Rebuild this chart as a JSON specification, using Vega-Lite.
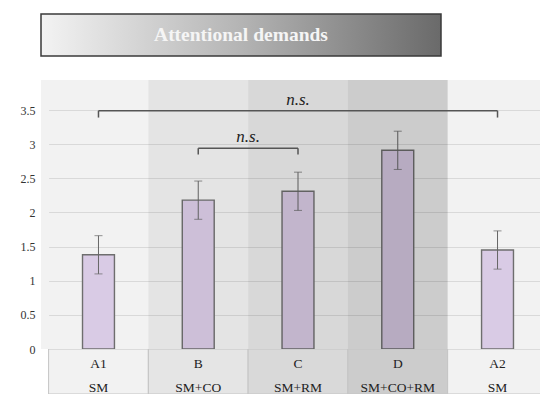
{
  "$schema": "https://vega.github.io/schema/vega-lite/v6.json",
  "autosize": {"type": "pad"},
  "padding": {"left": 20, "top": 13, "right": 0, "bottom": 0},
  "background": "white",
  "bounds": "flush",
  "spacing": 24,
  "config": {
    "font": "Liberation Serif",
    "view": {"stroke": null},
    "axisY": {
      "format": "~g",
      "domain": false,
      "ticks": false,
      "labelPadding": 6,
      "labelFont": "Liberation Serif",
      "labelFontSize": 12,
      "labelColor": "#333333",
      "gridColor": "#d9d9d9",
      "gridWidth": 1
    }
  },
  "datasets": {
    "scores": [
      {"cond": "A1", "task": "SM", "mean": 1.38, "se": 0.28},
      {"cond": "B", "task": "SM+CO", "mean": 2.18, "se": 0.28},
      {"cond": "C", "task": "SM+RM", "mean": 2.31, "se": 0.28},
      {"cond": "D", "task": "SM+CO+RM", "mean": 2.91, "se": 0.28},
      {"cond": "A2", "task": "SM", "mean": 1.45, "se": 0.28}
    ],
    "brackets": [
      {"from": "A1", "to": "A2", "level": 3.49, "drop": 3.39, "note": "n.s."},
      {"from": "B", "to": "C", "level": 2.94, "drop": 2.85, "note": "n.s."}
    ]
  },
  "vconcat": [
    {
      "width": 400,
      "height": 42,
      "data": {"values": [{"heading": "Attentional demands"}]},
      "layer": [
        {
          "mark": {
            "type": "rect",
            "fill": {
              "gradient": "linear",
              "x1": 0, "y1": 0, "x2": 1, "y2": 0,
              "stops": [
                {"offset": 0, "color": "#f3f3f3"},
                {"offset": 0.5, "color": "#b4b4b4"},
                {"offset": 1, "color": "#6a6a6a"}
              ]
            },
            "stroke": "#3a3a3a",
            "strokeWidth": 1.5
          },
          "encoding": {
            "x": {"value": 0},
            "x2": {"value": "width"},
            "y": {"value": 0},
            "y2": {"value": "height"}
          }
        },
        {
          "mark": {
            "type": "text",
            "font": "Liberation Serif",
            "fontWeight": "bold",
            "fontSize": 19.5,
            "color": "#f5f5f5",
            "baseline": "middle",
            "align": "center"
          },
          "encoding": {"text": {"field": "heading"}}
        }
      ]
    },
    {
      "spacing": 0,
      "bounds": "flush",
      "vconcat": [
        {
          "width": 499,
          "height": 269,
          "view": {"fill": "#f2f2f2", "stroke": null},
          "encoding": {
            "y": {
              "field": "mean", "type": "quantitative", "title": null,
              "scale": {"domain": [0, 3.94], "nice": false},
              "axis": {"title": null, "values": [0, 0.5, 1, 1.5, 2, 2.5, 3, 3.5]}
            }
          },
          "layer": [
            {
              "data": {"name": "scores"},
              "mark": {
                "type": "bar",
                "fill": "#d9cbe5",
                "stroke": "#6e6e6e",
                "strokeWidth": 1.4,
                "width": {"band": 0.32}
              },
              "encoding": {
                "x": {
                  "field": "cond", "type": "nominal", "sort": null,
                  "scale": {"domain": ["A1", "B", "C", "D", "A2"], "range": [7.6, 506.4], "paddingInner": 0, "paddingOuter": 0},
                  "axis": null
                }
              }
            },
            {
              "data": {"name": "scores"},
              "mark": {"type": "errorbar", "color": "#666666", "ticks": {"size": 8}},
              "encoding": {
                "x": {"field": "cond", "type": "nominal", "sort": null},
                "yError": {"field": "se"}
              }
            },
            {
              "data": {"name": "scores"},
              "mark": {"type": "rect", "clip": true},
              "encoding": {
                "x": {"field": "cond", "type": "nominal", "sort": null},
                "y": null,
                "color": {
                  "field": "cond", "type": "nominal",
                  "scale": {
                    "domain": ["A1", "B", "C", "D", "A2"],
                    "range": ["rgba(0,0,0,0)", "rgba(0,0,0,0.055)", "rgba(0,0,0,0.105)", "rgba(0,0,0,0.157)", "rgba(0,0,0,0)"]
                  },
                  "legend": null
                }
              }
            },
            {
              "data": {"name": "brackets"},
              "mark": {"type": "rule", "color": "#555555", "strokeWidth": 1.5},
              "encoding": {
                "x": {"field": "from", "type": "nominal", "bandPosition": 0.5},
                "x2": {"field": "to", "bandPosition": 0.5},
                "y": {"field": "level", "type": "quantitative", "title": null}
              }
            },
            {
              "data": {"name": "brackets"},
              "mark": {"type": "rule", "color": "#555555", "strokeWidth": 1.5},
              "encoding": {
                "x": {"field": "from", "type": "nominal", "bandPosition": 0.5},
                "y": {"field": "level", "type": "quantitative", "title": null},
                "y2": {"field": "drop"}
              }
            },
            {
              "data": {"name": "brackets"},
              "mark": {"type": "rule", "color": "#555555", "strokeWidth": 1.5},
              "encoding": {
                "x": {"field": "to", "type": "nominal", "bandPosition": 0.5},
                "y": {"field": "level", "type": "quantitative", "title": null},
                "y2": {"field": "drop"}
              }
            },
            {
              "data": {"name": "brackets"},
              "transform": [{"filter": "datum.from === 'A1'"}],
              "mark": {"type": "text", "font": "Liberation Serif", "fontStyle": "italic", "fontSize": 17, "color": "#222222", "baseline": "alphabetic", "dy": -6},
              "encoding": {
                "x": {"datum": "C", "type": "nominal", "bandPosition": 0.5},
                "y": {"field": "level", "type": "quantitative", "title": null},
                "text": {"field": "note"}
              }
            },
            {
              "data": {"name": "brackets"},
              "transform": [{"filter": "datum.from === 'B'"}],
              "mark": {"type": "text", "font": "Liberation Serif", "fontStyle": "italic", "fontSize": 17, "color": "#222222", "baseline": "alphabetic", "dy": -6},
              "encoding": {
                "x": {"field": "to", "type": "nominal", "bandPosition": 0},
                "y": {"field": "level", "type": "quantitative", "title": null},
                "text": {"field": "note"}
              }
            }
          ]
        },
        {
          "width": 499,
          "height": 45,
          "view": {"fill": null, "stroke": null},
          "data": {"name": "scores"},
          "layer": [
            {
              "mark": {"type": "rect", "stroke": "#c4c4c4", "strokeWidth": 1, "clip": true},
              "encoding": {
                "x": {
                  "field": "cond", "type": "nominal", "sort": null,
                  "scale": {"domain": ["A1", "B", "C", "D", "A2"], "range": [7.6, 506.4], "paddingInner": 0, "paddingOuter": 0},
                  "axis": null
                },
                "fill": {
                  "field": "cond", "type": "nominal",
                  "scale": {"domain": ["A1", "B", "C", "D", "A2"], "range": ["#f2f2f2", "#e5e5e5", "#d9d9d9", "#cccccc", "#f2f2f2"]},
                  "legend": null
                }
              }
            },
            {
              "mark": {"type": "text", "fontSize": 13.5, "color": "#222222", "baseline": "middle", "dy": -8},
              "encoding": {
                "x": {"field": "cond", "type": "nominal", "sort": null},
                "text": {"field": "cond"}
              }
            },
            {
              "mark": {"type": "text", "fontSize": 13.5, "color": "#222222", "baseline": "middle", "dy": 16},
              "encoding": {
                "x": {"field": "cond", "type": "nominal", "sort": null},
                "text": {"field": "task"}
              }
            }
          ]
        }
      ]
    }
  ]
}
